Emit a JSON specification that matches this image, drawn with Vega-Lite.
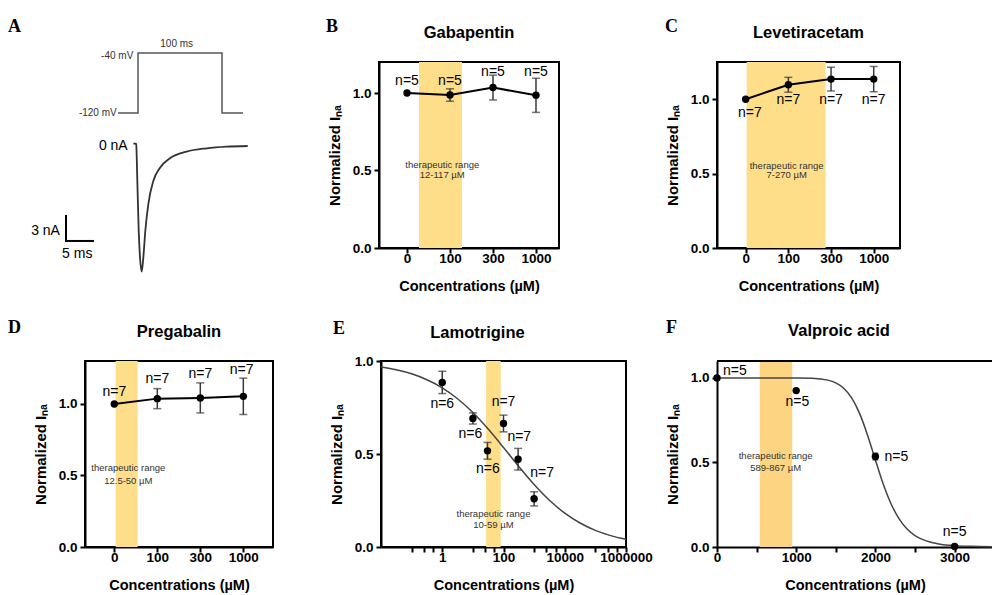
{
  "$schema": "https://vega.github.io/schema/vega-lite/v6.json",
  "padding": {"left": 8, "top": 17, "right": 0, "bottom": 0},
  "background": "white",
  "datasets": {
    "bPts": [{"x":0,"y":1.0,"e":0},{"x":1,"y":0.987,"e":0.04},{"x":2,"y":1.035,"e":0.08},{"x":3,"y":0.985,"e":0.11}],
    "cPts": [{"x":0,"y":1.0,"e":0},{"x":1,"y":1.097,"e":0.05},{"x":2,"y":1.135,"e":0.08},{"x":3,"y":1.135,"e":0.085}],
    "dPts": [{"x":0,"y":1.0,"e":0},{"x":1,"y":1.037,"e":0.07},{"x":2,"y":1.042,"e":0.105},{"x":3,"y":1.053,"e":0.127}],
    "ePts": [{"x":1,"y":0.885,"e":0.06},{"x":10,"y":0.691,"e":0.03},{"x":30,"y":0.517,"e":0.045},{"x":100,"y":0.664,"e":0.045},{"x":300,"y":0.472,"e":0.058},{"x":1000,"y":0.259,"e":0.038}],
    "fPts": [{"x":0,"y":1.0,"e":0},{"x":1000,"y":0.925,"e":0},{"x":2000,"y":0.535,"e":0.02},{"x":3000,"y":0.003,"e":0}]
  },
  "config": {
    "font": "Liberation Sans",
    "view": {"stroke": "black", "strokeWidth": 2},
    "title": {"font": "Liberation Sans", "fontSize": 16.5, "fontWeight": "bold", "color": "black", "anchor": "middle", "frame": "group", "offset": 21},
    "axis": {"grid": false, "domainColor": "black", "domainWidth": 2, "tickColor": "black", "tickWidth": 2, "tickSize": 5, "labelFont": "Liberation Sans", "labelFontSize": 13.5, "labelFontWeight": "bold", "labelColor": "black", "titleFont": "Liberation Sans", "titleFontSize": 14.5, "titleFontWeight": "bold", "titleColor": "black"},
    "axisX": {"labelPadding": -1.5, "titlePadding": 14, "labelFlush": false},
    "axisY": {"labelPadding": 3, "titlePadding": 10, "titleFontSize": 15},
    "text": {"font": "Liberation Sans"}
  },
  "spacing": 24,
  "vconcat": [
    {
      "spacing": 66,
      "hconcat": [
        {
          "title": {"text": "A", "font": "Liberation Serif", "fontSize": 18, "anchor": "start", "frame": "group", "offset": 3.5, "dx": -77},
          "vconcat": [
            {
              "width": 175, "height": 186,
              "view": {"stroke": null},
              "resolve": {"scale": {"x": "independent", "y": "independent"}},
              "layer": [
                {
                  "data": {"values": [{"i":0,"t":-23.8,"v":-120},{"i":1,"t":0,"v":-120},{"i":2,"t":0,"v":-40},{"i":3,"t":100,"v":-40},{"i":4,"t":100,"v":-120},{"i":5,"t":125,"v":-120}]},
                  "mark": {"type": "line", "color": "#555555", "strokeWidth": 1.5},
                  "encoding": {
                    "x": {"field": "t", "type": "quantitative", "scale": {"domain": [-63.1, 145.2], "nice": false, "zero": false}, "axis": null},
                    "y": {"field": "v", "type": "quantitative", "scale": {"domain": [-300, -52], "nice": false, "zero": false}, "axis": null},
                    "order": {"field": "i"}
                  }
                },
                {
                  "data": {"values": [{"t":-5.6,"v":-44,"s":"-40 mV"},{"t":-25.4,"v":-120.4,"s":"-120 mV"}]},
                  "mark": {"type": "text", "align": "right", "fontSize": 10, "color": "#333333"},
                  "encoding": {
                    "x": {"field": "t", "type": "quantitative", "scale": {"domain": [-63.1, 145.2], "nice": false, "zero": false}, "axis": null},
                    "y": {"field": "v", "type": "quantitative", "scale": {"domain": [-300, -52], "nice": false, "zero": false}, "axis": null},
                    "text": {"field": "s"}
                  }
                },
                {
                  "data": {"values": [{"t":46,"v":-28.4,"s":"100 ms"}]},
                  "mark": {"type": "text", "align": "center", "fontSize": 10, "color": "#333333"},
                  "encoding": {
                    "x": {"field": "t", "type": "quantitative", "scale": {"domain": [-63.1, 145.2], "nice": false, "zero": false}, "axis": null},
                    "y": {"field": "v", "type": "quantitative", "scale": {"domain": [-300, -52], "nice": false, "zero": false}, "axis": null},
                    "text": {"field": "s"}
                  }
                },
                {
                  "data": {"values": [{"t":-0.31,"c":0.28},{"t":0.19,"c":0.28},{"t":0.24,"c":0.12},{"t":0.43,"c":-4.2},{"t":0.69,"c":-10.2},{"t":0.93,"c":-13.41},{"t":1.24,"c":-15.09},{"t":1.54,"c":-13.41},{"t":1.91,"c":-10.2},{"t":2.46,"c":-7.0},{"t":3.39,"c":-4.2},{"t":4.63,"c":-2.61},{"t":6.48,"c":-1.48},{"t":9.57,"c":-0.68},{"t":13.28,"c":-0.28},{"t":16.98,"c":-0.08},{"t":20.87,"c":0.0}]},
                  "mark": {"type": "line", "color": "#333333", "strokeWidth": 1.8, "interpolate": "monotone"},
                  "encoding": {
                    "x": {"field": "t", "type": "quantitative", "scale": {"domain": [-9.26, 23.15], "nice": false, "zero": false}, "axis": null},
                    "y": {"field": "c", "type": "quantitative", "scale": {"domain": [-12.245, 10.08], "nice": false, "zero": false}, "axis": null}
                  }
                },
                {
                  "data": {"values": [{"t":-12.78,"c":-8.4,"t2":-12.78,"c2":-11.4},{"t":-12.78,"c":-11.4,"t2":-7.78,"c2":-11.4}]},
                  "mark": {"type": "rule", "color": "black", "strokeWidth": 2, "strokeCap": "square"},
                  "encoding": {
                    "x": {"field": "t", "type": "quantitative", "scale": {"domain": [-9.26, 23.15], "nice": false, "zero": false}, "axis": null},
                    "x2": {"field": "t2"},
                    "y": {"field": "c", "type": "quantitative", "scale": {"domain": [-12.245, 10.08], "nice": false, "zero": false}, "axis": null},
                    "y2": {"field": "c2"}
                  }
                },
                {
                  "data": {"values": [{"t":-1.35,"c":0,"s":"0 nA"},{"t":-13.9,"c":-10.2,"s":"3 nA"}]},
                  "mark": {"type": "text", "align": "right", "fontSize": 14, "color": "black"},
                  "encoding": {
                    "x": {"field": "t", "type": "quantitative", "scale": {"domain": [-9.26, 23.15], "nice": false, "zero": false}, "axis": null},
                    "y": {"field": "c", "type": "quantitative", "scale": {"domain": [-12.245, 10.08], "nice": false, "zero": false}, "axis": null},
                    "text": {"field": "s"}
                  }
                },
                {
                  "data": {"values": [{"t":-10.69,"c":-13.0,"s":"5 ms"}]},
                  "mark": {"type": "text", "align": "center", "fontSize": 14, "color": "black"},
                  "encoding": {
                    "x": {"field": "t", "type": "quantitative", "scale": {"domain": [-9.26, 23.15], "nice": false, "zero": false}, "axis": null},
                    "y": {"field": "c", "type": "quantitative", "scale": {"domain": [-12.245, 10.08], "nice": false, "zero": false}, "axis": null},
                    "text": {"field": "s"}
                  }
                }
              ]
            }
          ]
        },
        {
          "spacing": 104,
          "hconcat": [
            {
              "title": {"text": "B", "font": "Liberation Serif", "fontSize": 18, "anchor": "start", "frame": "group", "offset": -12, "dx": -53},
              "vconcat": [
                {
                  "title": {"text": "Gabapentin"},
                  "width": 180, "height": 186,
                  "layer": [
                    {
                      "data": {"values": [{"x": 0.279, "x2": 1.279}]},
                      "mark": {"type": "rect", "color": "#FFDE8A"},
                      "encoding": {
                        "x": {"field": "x", "type": "quantitative", "scale": {"domain": [-0.651, 3.535], "nice": false, "zero": false}, "axis": {"title": "Concentrations (µM)", "values": [0,1,2,3], "labelExpr": "['0','100','300','1000'][datum.value]"}},
                        "x2": {"field": "x2"}
                      }
                    },
                    {
                      "data": {"values": [{"x":0.82,"y":0.534,"t":"therapeutic range"},{"x":0.82,"y":0.471,"t":"12-117 µM"}]},
                      "mark": {"type": "text", "fontSize": 9.5, "color": "#333333"},
                      "encoding": {
                        "x": {"field": "x", "type": "quantitative", "title": "Concentrations (µM)"},
                        "y": {"field": "y", "type": "quantitative", "title": "Normalized Iₙₐ", "scale": {"domain": [0, 1.2], "nice": false, "zero": false}, "axis": {"title": "Normalized Iₙₐ", "values": [0, 0.5, 1], "format": ".1f"}},
                        "text": {"field": "t"}
                      }
                    },
                    {
                      "data": {"name": "bPts"},
                      "mark": {"type": "line", "color": "black", "strokeWidth": 2},
                      "encoding": {"x": {"field": "x", "type": "quantitative", "title": "Concentrations (µM)"}, "y": {"field": "y", "type": "quantitative", "title": "Normalized Iₙₐ"}}
                    },
                    {
                      "data": {"name": "bPts"},
                      "transform": [{"filter": "datum.e > 0"}],
                      "mark": {"type": "errorbar", "ticks": {"size": 8, "thickness": 1.5, "color": "#3a3a3a"}, "rule": {"strokeWidth": 1.5, "color": "#3a3a3a"}},
                      "encoding": {"x": {"field": "x", "type": "quantitative", "title": "Concentrations (µM)"}, "y": {"field": "y", "type": "quantitative", "title": "Normalized Iₙₐ"}, "yError": {"field": "e"}}
                    },
                    {
                      "data": {"name": "bPts"},
                      "mark": {"type": "circle", "size": 55, "color": "black", "opacity": 1},
                      "encoding": {"x": {"field": "x", "type": "quantitative", "title": "Concentrations (µM)"}, "y": {"field": "y", "type": "quantitative", "title": "Normalized Iₙₐ"}}
                    },
                    {
                      "data": {"values": [{"x":0,"y":1.077,"t":"n=5"},{"x":1,"y":1.077,"t":"n=5"},{"x":2,"y":1.137,"t":"n=5"},{"x":3,"y":1.137,"t":"n=5"}]},
                      "mark": {"type": "text", "fontSize": 14, "color": "black"},
                      "encoding": {"x": {"field": "x", "type": "quantitative", "title": "Concentrations (µM)"}, "y": {"field": "y", "type": "quantitative", "title": "Normalized Iₙₐ"}, "text": {"field": "t"}}
                    }
                  ]
                }
              ]
            },
            {
              "title": {"text": "C", "font": "Liberation Serif", "fontSize": 18, "anchor": "start", "frame": "group", "offset": -12, "dx": -52},
              "vconcat": [
                {
                  "title": {"text": "Levetiracetam"},
                  "width": 183, "height": 186,
                  "layer": [
                    {
                      "data": {"values": [{"x": 0.023, "x2": 1.874}]},
                      "mark": {"type": "rect", "color": "#FFDE8A"},
                      "encoding": {
                        "x": {"field": "x", "type": "quantitative", "scale": {"domain": [-0.672, 3.616], "nice": false, "zero": false}, "axis": {"title": "Concentrations (µM)", "values": [0,1,2,3], "labelExpr": "['0','100','300','1000'][datum.value]"}},
                        "x2": {"field": "x2"}
                      }
                    },
                    {
                      "data": {"values": [{"x":0.96,"y":0.549,"t":"therapeutic range"},{"x":0.96,"y":0.491,"t":"7-270 µM"}]},
                      "mark": {"type": "text", "fontSize": 9.5, "color": "#333333"},
                      "encoding": {
                        "x": {"field": "x", "type": "quantitative", "title": "Concentrations (µM)"},
                        "y": {"field": "y", "type": "quantitative", "title": "Normalized Iₙₐ", "scale": {"domain": [0, 1.25], "nice": false, "zero": false}, "axis": {"title": "Normalized Iₙₐ", "values": [0, 0.5, 1], "format": ".1f"}},
                        "text": {"field": "t"}
                      }
                    },
                    {
                      "data": {"name": "cPts"},
                      "mark": {"type": "line", "color": "black", "strokeWidth": 2},
                      "encoding": {"x": {"field": "x", "type": "quantitative", "title": "Concentrations (µM)"}, "y": {"field": "y", "type": "quantitative", "title": "Normalized Iₙₐ"}}
                    },
                    {
                      "data": {"name": "cPts"},
                      "transform": [{"filter": "datum.e > 0"}],
                      "mark": {"type": "errorbar", "ticks": {"size": 8, "thickness": 1.5, "color": "#3a3a3a"}, "rule": {"strokeWidth": 1.5, "color": "#3a3a3a"}},
                      "encoding": {"x": {"field": "x", "type": "quantitative", "title": "Concentrations (µM)"}, "y": {"field": "y", "type": "quantitative", "title": "Normalized Iₙₐ"}, "yError": {"field": "e"}}
                    },
                    {
                      "data": {"name": "cPts"},
                      "mark": {"type": "circle", "size": 55, "color": "black", "opacity": 1},
                      "encoding": {"x": {"field": "x", "type": "quantitative", "title": "Concentrations (µM)"}, "y": {"field": "y", "type": "quantitative", "title": "Normalized Iₙₐ"}}
                    },
                    {
                      "data": {"values": [{"x":0.1,"y":0.906,"t":"n=7"},{"x":1,"y":0.996,"t":"n=7"},{"x":2,"y":0.996,"t":"n=7"},{"x":3,"y":0.996,"t":"n=7"}]},
                      "mark": {"type": "text", "fontSize": 14, "color": "black"},
                      "encoding": {"x": {"field": "x", "type": "quantitative", "title": "Concentrations (µM)"}, "y": {"field": "y", "type": "quantitative", "title": "Normalized Iₙₐ"}, "text": {"field": "t"}}
                    }
                  ]
                }
              ]
            }
          ]
        }
      ]
    },
    {
      "spacing": 11,
      "hconcat": [
        {
          "spacing": 54,
          "hconcat": [
            {
              "title": {"text": "D", "font": "Liberation Serif", "fontSize": 18, "anchor": "start", "frame": "group", "offset": -14, "dx": -77},
              "vconcat": [
                {
                  "title": {"text": "Pregabalin"},
                  "width": 188, "height": 186,
                  "layer": [
                    {
                      "data": {"values": [{"x": 0.033, "x2": 0.544}]},
                      "mark": {"type": "rect", "color": "#FFDE8A"},
                      "encoding": {
                        "x": {"field": "x", "type": "quantitative", "scale": {"domain": [-0.681, 3.69], "nice": false, "zero": false}, "axis": {"title": "Concentrations (µM)", "values": [0,1,2,3], "labelExpr": "['0','100','300','1000'][datum.value]"}},
                        "x2": {"field": "x2"}
                      }
                    },
                    {
                      "data": {"values": [{"x":0.326,"y":0.551,"t":"therapeutic range"},{"x":0.326,"y":0.46,"t":"12.5-50 µM"}]},
                      "mark": {"type": "text", "fontSize": 9.5, "color": "#333333"},
                      "encoding": {
                        "x": {"field": "x", "type": "quantitative", "title": "Concentrations (µM)"},
                        "y": {"field": "y", "type": "quantitative", "title": "Normalized Iₙₐ", "scale": {"domain": [0, 1.3], "nice": false, "zero": false}, "axis": {"title": "Normalized Iₙₐ", "values": [0, 0.5, 1], "format": ".1f"}},
                        "text": {"field": "t"}
                      }
                    },
                    {
                      "data": {"name": "dPts"},
                      "mark": {"type": "line", "color": "black", "strokeWidth": 2},
                      "encoding": {"x": {"field": "x", "type": "quantitative", "title": "Concentrations (µM)"}, "y": {"field": "y", "type": "quantitative", "title": "Normalized Iₙₐ"}}
                    },
                    {
                      "data": {"name": "dPts"},
                      "transform": [{"filter": "datum.e > 0"}],
                      "mark": {"type": "errorbar", "ticks": {"size": 8, "thickness": 1.5, "color": "#3a3a3a"}, "rule": {"strokeWidth": 1.5, "color": "#3a3a3a"}},
                      "encoding": {"x": {"field": "x", "type": "quantitative", "title": "Concentrations (µM)"}, "y": {"field": "y", "type": "quantitative", "title": "Normalized Iₙₐ"}, "yError": {"field": "e"}}
                    },
                    {
                      "data": {"name": "dPts"},
                      "mark": {"type": "circle", "size": 55, "color": "black", "opacity": 1},
                      "encoding": {"x": {"field": "x", "type": "quantitative", "title": "Concentrations (µM)"}, "y": {"field": "y", "type": "quantitative", "title": "Normalized Iₙₐ"}}
                    },
                    {
                      "data": {"values": [{"x":0,"y":1.08,"t":"n=7"},{"x":1,"y":1.173,"t":"n=7"},{"x":2,"y":1.208,"t":"n=7"},{"x":2.96,"y":1.238,"t":"n=7"}]},
                      "mark": {"type": "text", "fontSize": 14, "color": "black"},
                      "encoding": {"x": {"field": "x", "type": "quantitative", "title": "Concentrations (µM)"}, "y": {"field": "y", "type": "quantitative", "title": "Normalized Iₙₐ"}, "text": {"field": "t"}}
                    }
                  ]
                }
              ]
            },
            {
              "title": {"text": "E", "font": "Liberation Serif", "fontSize": 18, "anchor": "start", "frame": "group", "offset": -14, "dx": -48},
              "vconcat": [
                {
                  "title": {"text": "Lamotrigine", "dx": -26, "offset": 13},
                  "width": 245, "height": 186,
                  "layer": [
                    {
                      "data": {"values": [{"x": 27, "x2": 81}]},
                      "mark": {"type": "rect", "color": "#FFDE8A"},
                      "encoding": {
                        "x": {"field": "x", "type": "quantitative", "scale": {"type": "log", "domain": [0.01, 1000000], "nice": false}, "axis": {"title": "Concentrations (µM)", "values": [0.1,0.25,0.5,1,10,25,50,100,1000,2500,5000,10000,100000,250000,500000,1000000], "labelOverlap": false, "labelFlush": false, "labelExpr": "indexof([1,100,10000,1000000], datum.value) >= 0 ? '' + datum.value : ''"}},
                        "x2": {"field": "x2"}
                      }
                    },
                    {
                      "data": {"values": [{"x":47,"y":0.18,"t":"therapeutic range"},{"x":47,"y":0.117,"t":"10-59 µM"}]},
                      "mark": {"type": "text", "fontSize": 9.5, "color": "#333333"},
                      "encoding": {
                        "x": {"field": "x", "type": "quantitative", "title": "Concentrations (µM)"},
                        "y": {"field": "y", "type": "quantitative", "title": "Normalized Iₙₐ", "scale": {"domain": [0, 1], "nice": false, "zero": false}, "axis": {"title": "Normalized Iₙₐ", "values": [0, 0.5, 1], "format": ".1f"}},
                        "text": {"field": "t"}
                      }
                    },
                    {
                      "data": {"values": [{"x":0.01,"y":0.968},{"x":0.0316,"y":0.953},{"x":0.1,"y":0.931},{"x":0.316,"y":0.899},{"x":1,"y":0.856},{"x":3.16,"y":0.797},{"x":10,"y":0.723},{"x":31.6,"y":0.634},{"x":100,"y":0.535},{"x":316,"y":0.433},{"x":1000,"y":0.336},{"x":3162,"y":0.251},{"x":10000,"y":0.182},{"x":31623,"y":0.129},{"x":100000,"y":0.0894},{"x":316228,"y":0.0612},{"x":1000000,"y":0.0414}]},
                      "mark": {"type": "line", "color": "#444444", "strokeWidth": 1.5, "interpolate": "monotone"},
                      "encoding": {"x": {"field": "x", "type": "quantitative", "title": "Concentrations (µM)"}, "y": {"field": "y", "type": "quantitative", "title": "Normalized Iₙₐ"}}
                    },
                    {
                      "data": {"name": "ePts"},
                      "transform": [{"filter": "datum.e > 0"}],
                      "mark": {"type": "errorbar", "ticks": {"size": 8, "thickness": 1.5, "color": "#3a3a3a"}, "rule": {"strokeWidth": 1.5, "color": "#3a3a3a"}},
                      "encoding": {"x": {"field": "x", "type": "quantitative", "title": "Concentrations (µM)"}, "y": {"field": "y", "type": "quantitative", "title": "Normalized Iₙₐ"}, "yError": {"field": "e"}}
                    },
                    {
                      "data": {"name": "ePts"},
                      "mark": {"type": "circle", "size": 55, "color": "black", "opacity": 1},
                      "encoding": {"x": {"field": "x", "type": "quantitative", "title": "Concentrations (µM)"}, "y": {"field": "y", "type": "quantitative", "title": "Normalized Iₙₐ"}}
                    },
                    {
                      "data": {"values": [{"x":1,"y":0.768,"t":"n=6"},{"x":8.3,"y":0.605,"t":"n=6"},{"x":31,"y":0.422,"t":"n=6"},{"x":100,"y":0.781,"t":"n=7"},{"x":327,"y":0.592,"t":"n=7"},{"x":1820,"y":0.398,"t":"n=7"}]},
                      "mark": {"type": "text", "fontSize": 14, "color": "black"},
                      "encoding": {"x": {"field": "x", "type": "quantitative", "title": "Concentrations (µM)"}, "y": {"field": "y", "type": "quantitative", "title": "Normalized Iₙₐ"}, "text": {"field": "t"}}
                    }
                  ]
                }
              ]
            }
          ]
        },
        {
          "title": {"text": "F", "font": "Liberation Serif", "fontSize": 18, "anchor": "start", "frame": "group", "offset": -14, "dx": -51},
          "vconcat": [
            {
              "title": {"text": "Valproic acid", "dx": -16},
              "width": 276, "height": 186,
              "view": {"stroke": null},
              "layer": [
                {
                  "data": {"values": [{"x": 540, "x2": 950}]},
                  "mark": {"type": "rect", "color": "#FDD481"},
                  "encoding": {
                    "x": {"field": "x", "type": "quantitative", "scale": {"domain": [0, 3485], "nice": false, "zero": false}, "axis": {"title": "Concentrations (µM)", "values": [0,500,1000,1500,2000,2500,3000], "labelExpr": "datum.value % 1000 === 0 ? '' + datum.value : ''"}},
                    "x2": {"field": "x2"}
                  }
                },
                {
                  "data": {"values": [{"x":741,"y":0.539,"t":"therapeutic range"},{"x":741,"y":0.465,"t":"589-867 µM"}]},
                  "mark": {"type": "text", "fontSize": 9.5, "color": "#333333"},
                  "encoding": {
                    "x": {"field": "x", "type": "quantitative", "title": "Concentrations (µM)"},
                    "y": {"field": "y", "type": "quantitative", "title": "Normalized Iₙₐ", "scale": {"domain": [0, 1.1], "nice": false, "zero": false}, "axis": {"title": "Normalized Iₙₐ", "values": [0, 0.5, 1], "format": ".1f"}},
                    "text": {"field": "t"}
                  }
                },
                {
                  "data": {"values": [{}]},
                  "mark": {"type": "rule", "color": "black", "strokeWidth": 2},
                  "encoding": {"y": {"datum": 1.1, "type": "quantitative", "title": "Normalized Iₙₐ"}}
                },
                {
                  "data": {"values": [{"x":0,"y":1},{"x":500,"y":1},{"x":1000,"y":0.9998},{"x":1200,"y":0.998},{"x":1400,"y":0.987},{"x":1500,"y":0.971},{"x":1600,"y":0.939},{"x":1700,"y":0.882},{"x":1800,"y":0.79},{"x":1900,"y":0.663},{"x":2000,"y":0.515},{"x":2100,"y":0.371},{"x":2200,"y":0.253},{"x":2300,"y":0.166},{"x":2400,"y":0.106},{"x":2500,"y":0.068},{"x":2600,"y":0.0436},{"x":2700,"y":0.0282},{"x":2800,"y":0.0184},{"x":3000,"y":0.0081},{"x":3200,"y":0.0038},{"x":3485,"y":0.0012}]},
                  "mark": {"type": "line", "color": "#444444", "strokeWidth": 1.5, "interpolate": "monotone"},
                  "encoding": {"x": {"field": "x", "type": "quantitative", "title": "Concentrations (µM)"}, "y": {"field": "y", "type": "quantitative", "title": "Normalized Iₙₐ"}}
                },
                {
                  "data": {"name": "fPts"},
                  "transform": [{"filter": "datum.e > 0"}],
                  "mark": {"type": "errorbar", "ticks": {"size": 6, "thickness": 1.5, "color": "#3a3a3a"}, "rule": {"strokeWidth": 1.5, "color": "#3a3a3a"}},
                  "encoding": {"x": {"field": "x", "type": "quantitative", "title": "Concentrations (µM)"}, "y": {"field": "y", "type": "quantitative", "title": "Normalized Iₙₐ"}, "yError": {"field": "e"}}
                },
                {
                  "data": {"name": "fPts"},
                  "mark": {"type": "circle", "size": 55, "color": "black", "opacity": 1},
                  "encoding": {"x": {"field": "x", "type": "quantitative", "title": "Concentrations (µM)"}, "y": {"field": "y", "type": "quantitative", "title": "Normalized Iₙₐ"}}
                },
                {
                  "data": {"values": [{"x":225,"y":1.04,"t":"n=5"},{"x":1015,"y":0.855,"t":"n=5"},{"x":2265,"y":0.535,"t":"n=5"},{"x":3000,"y":0.089,"t":"n=5"}]},
                  "mark": {"type": "text", "fontSize": 14, "color": "black"},
                  "encoding": {"x": {"field": "x", "type": "quantitative", "title": "Concentrations (µM)"}, "y": {"field": "y", "type": "quantitative", "title": "Normalized Iₙₐ"}, "text": {"field": "t"}}
                }
              ]
            }
          ]
        }
      ]
    }
  ]
}
